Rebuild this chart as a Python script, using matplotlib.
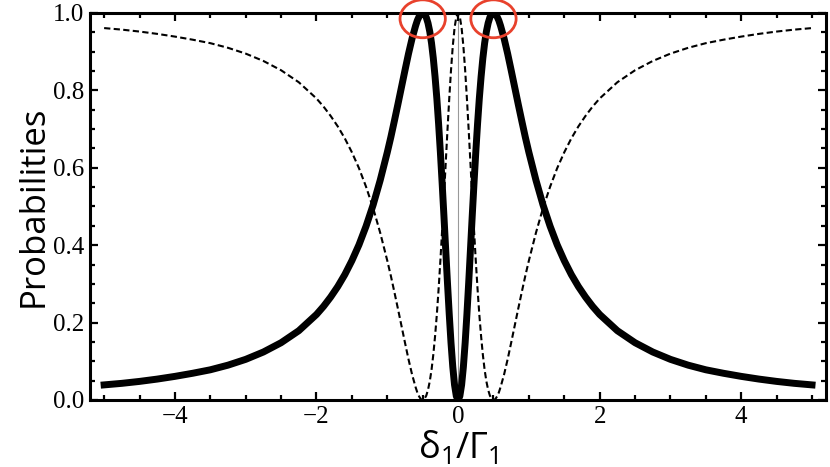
import matplotlib
matplotlib.use("Agg")
import matplotlib.pyplot as plt
from matplotlib.patches import Ellipse
from matplotlib.ticker import MultipleLocator, FormatStrFormatter, FuncFormatter

# detuning values and probabilities
x = [-5.0, -4.75, -4.5, -4.25, -4.0, -3.75, -3.5, -3.25, -3.0, -2.75, -2.5, -2.25,
     -2.0, -1.9, -1.8, -1.7, -1.6, -1.5, -1.4, -1.3, -1.2, -1.1, -1.0, -0.95, -0.9,
     -0.85, -0.8, -0.75, -0.7, -0.65, -0.6, -0.575, -0.55, -0.525, -0.5, -0.475,
     -0.45, -0.425, -0.4, -0.375, -0.35, -0.325, -0.3, -0.275, -0.25, -0.225, -0.2,
     -0.175, -0.15, -0.125, -0.1, -0.075, -0.05, -0.025,
     0.0, 0.025, 0.05, 0.075, 0.1, 0.125, 0.15, 0.175, 0.2, 0.225, 0.25, 0.275, 0.3,
     0.325, 0.35, 0.375, 0.4, 0.425, 0.45, 0.475, 0.5, 0.525, 0.55, 0.575, 0.6, 0.65,
     0.7, 0.75, 0.8, 0.85, 0.9, 0.95, 1.0, 1.1, 1.2, 1.3, 1.4, 1.5, 1.6, 1.7, 1.8, 1.9,
     2.0, 2.25, 2.5, 2.75, 3.0, 3.25, 3.5, 3.75, 4.0, 4.25, 4.5, 4.75, 5.0]
p_solid = [0.039, 0.043, 0.048, 0.054, 0.061, 0.069, 0.078, 0.090, 0.105, 0.124, 0.148,
           0.179, 0.221, 0.242, 0.266, 0.293, 0.324, 0.360, 0.401, 0.449, 0.504, 0.568,
           0.640, 0.679, 0.721, 0.764, 0.808, 0.852, 0.895, 0.934, 0.967, 0.981, 0.991,
           0.998, 1.0, 0.997, 0.989, 0.974, 0.952, 0.922, 0.883, 0.835, 0.779, 0.713,
           0.640, 0.560, 0.476, 0.389, 0.303, 0.222, 0.148, 0.086, 0.039, 0.010,
           0.0, 0.010, 0.039, 0.086, 0.148, 0.222, 0.303, 0.389, 0.476, 0.560, 0.640,
           0.713, 0.779, 0.835, 0.883, 0.922, 0.952, 0.974, 0.989, 0.997, 1.0, 0.998,
           0.991, 0.981, 0.967, 0.934, 0.895, 0.852, 0.808, 0.764, 0.721, 0.679, 0.640,
           0.568, 0.504, 0.449, 0.401, 0.360, 0.324, 0.293, 0.266, 0.242, 0.221, 0.179,
           0.148, 0.124, 0.105, 0.090, 0.078, 0.069, 0.061, 0.054, 0.048, 0.043, 0.039]
p_dashed = [0.961, 0.957, 0.952, 0.946, 0.939, 0.931, 0.922, 0.910, 0.895, 0.876, 0.852,
            0.821, 0.779, 0.758, 0.734, 0.707, 0.676, 0.640, 0.599, 0.551, 0.496, 0.432,
            0.360, 0.321, 0.279, 0.236, 0.192, 0.148, 0.105, 0.066, 0.033, 0.019, 0.009,
            0.002, 0.0, 0.003, 0.011, 0.026, 0.048, 0.078, 0.117, 0.165, 0.221, 0.287,
            0.360, 0.440, 0.524, 0.611, 0.697, 0.778, 0.852, 0.914, 0.961, 0.990,
            1.0, 0.990, 0.961, 0.914, 0.852, 0.778, 0.697, 0.611, 0.524, 0.440, 0.360,
            0.287, 0.221, 0.165, 0.117, 0.078, 0.048, 0.026, 0.011, 0.003, 0.0, 0.002,
            0.009, 0.019, 0.033, 0.066, 0.105, 0.148, 0.192, 0.236, 0.279, 0.321, 0.360,
            0.432, 0.496, 0.551, 0.599, 0.640, 0.676, 0.707, 0.734, 0.758, 0.779, 0.821,
            0.852, 0.876, 0.895, 0.910, 0.922, 0.931, 0.939, 0.946, 0.952, 0.957, 0.961]
peaks = [-0.5, 0.5]

fig = plt.figure(figsize=(8.3, 4.67), dpi=100)
ax = fig.add_axes([0.1084, 0.1435, 0.887, 0.8287])

ax.plot([0, 0], [0, 1], color='#999999', lw=0.8, zorder=1)
ax.plot(x, p_dashed, color='black', lw=1.5, ls=(0, (3, 1.6)), zorder=2)
ax.plot(x, p_solid, color='black', lw=5, solid_joinstyle='round', zorder=3)

# red circles round the two maxima
for px in peaks:
    ax.add_patch(Ellipse((px, 0.985), 0.64, 0.098, fill=False, edgecolor='#e8412c',
                         lw=2, clip_on=False, zorder=5))

ax.set_xlim(-5.2, 5.2)
ax.set_ylim(0, 1)
ax.xaxis.set_major_locator(MultipleLocator(2))
ax.xaxis.set_minor_locator(MultipleLocator(0.5))
ax.yaxis.set_major_locator(MultipleLocator(0.2))
ax.yaxis.set_minor_locator(MultipleLocator(0.05))
ax.yaxis.set_major_formatter(FormatStrFormatter('%.1f'))
ax.xaxis.set_major_formatter(FuncFormatter(lambda v, pos: ('%d' % v).replace('-', '\u2212')))

ax.tick_params(which='both', direction='in', top=True, right=True, width=1.6)
ax.tick_params(which='major', length=6, labelsize=18, pad=4)
ax.tick_params(which='minor', length=3.5)
for lab in ax.get_xticklabels() + ax.get_yticklabels():
    lab.set_fontfamily('Liberation Serif')
for s in ax.spines.values():
    s.set_linewidth(2.2)

ax.set_ylabel('Probabilities', fontsize=25, family='Open Sans', labelpad=2)
ax.set_xlabel(r'$\mathregular{\delta_1/\Gamma_1}$', fontsize=26, family='Open Sans', labelpad=1)

plt.savefig('out.png', dpi=100)
